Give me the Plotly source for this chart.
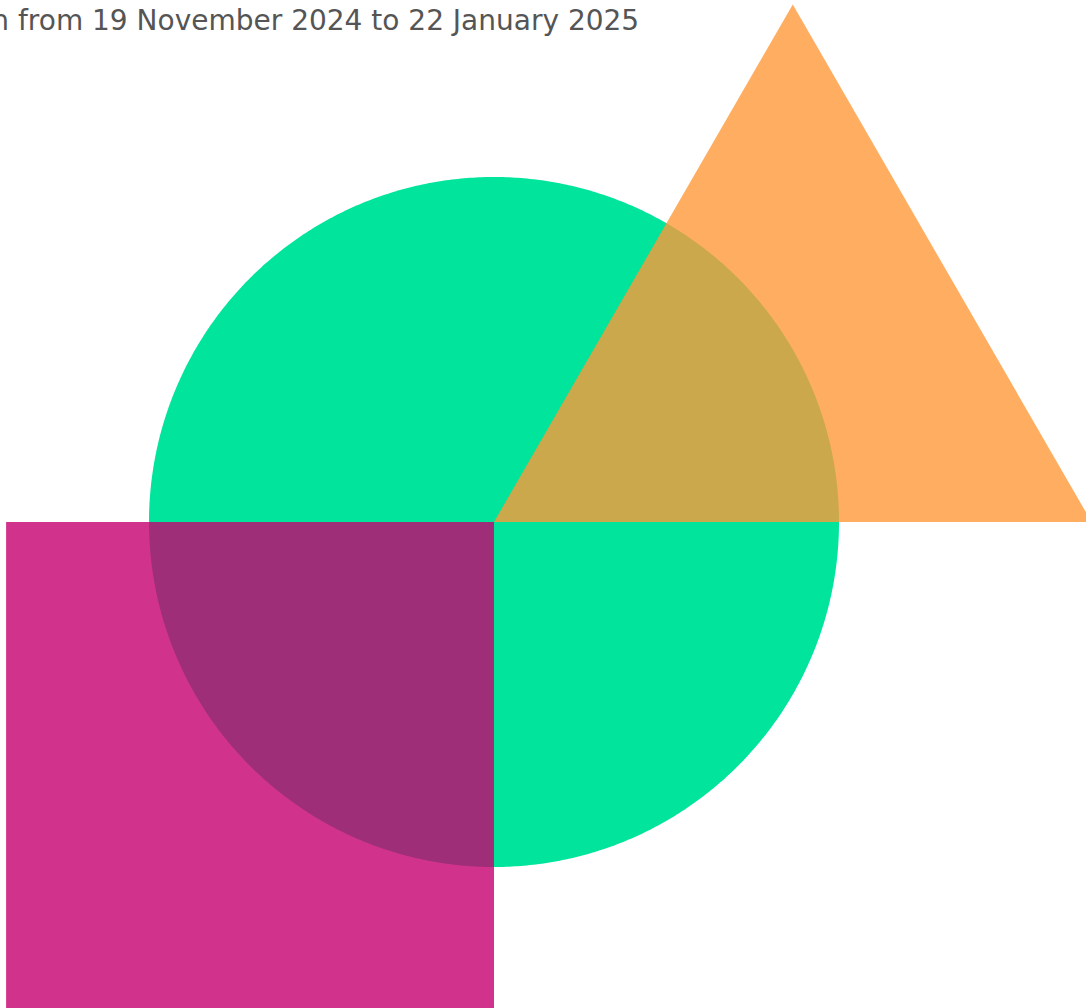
import numpy as np
import plotly.graph_objects as go

# Shapes of the composition, in units of the circle radius
shape_names = ["circle", "triangle", "square"]
circle_center = [0.0, 0.0]
circle_radius = 1.0
triangle_x = [0.0, np.sqrt(3) / 2, np.sqrt(3), 0.0]
triangle_y = [0.0, 1.5, 0.0, 0.0]
square_x = [-np.sqrt(2), 0.0, 0.0, -np.sqrt(2), -np.sqrt(2)]
square_y = [0.0, 0.0, -np.sqrt(2), -np.sqrt(2), 0.0]
colors = ["rgb(0,228,156)", "rgba(255,152,56,0.8)", "rgba(198,0,111,0.8)"]
caption = "Data collection from 19 November 2024 to 22 January 2025"

t = np.linspace(0, 2 * np.pi, 721)
cx = circle_center[0] + circle_radius * np.cos(t)
cy = circle_center[1] + circle_radius * np.sin(t)

fig = go.Figure()
fig.add_trace(go.Scatter(x=cx, y=cy, fill="toself", fillcolor=colors[0],
                         mode="none", hoverinfo="skip", name=shape_names[0]))
fig.add_trace(go.Scatter(x=triangle_x, y=triangle_y, fill="toself", fillcolor=colors[1],
                         mode="none", hoverinfo="skip", name=shape_names[1]))
fig.add_trace(go.Scatter(x=square_x, y=square_y, fill="toself", fillcolor=colors[2],
                         mode="none", hoverinfo="skip", name=shape_names[2]))

W, H = 1086, 1008
scale = 345.0  # px per unit
ox, oy = 494.0, 522.0
fig.update_xaxes(range=[-ox / scale, (W - ox) / scale], visible=False, fixedrange=True)
fig.update_yaxes(range=[-(H - oy) / scale, oy / scale], visible=False, fixedrange=True)

fig.add_annotation(text=caption, xref="paper", yref="paper",
                   x=641 / W, y=1 - 2 / H, xanchor="right", yanchor="top",
                   showarrow=False,
                   font=dict(family="DejaVu Sans, sans-serif", size=28, color="#555555"))

fig.update_layout(width=W, height=H, margin=dict(l=0, r=0, t=0, b=0),
                  paper_bgcolor="white", plot_bgcolor="white", showlegend=False)

fig.write_html("out.html", config={"displayModeBar": False},
               post_script="document.body.style.margin='0';document.body.style.overflow='hidden';")
